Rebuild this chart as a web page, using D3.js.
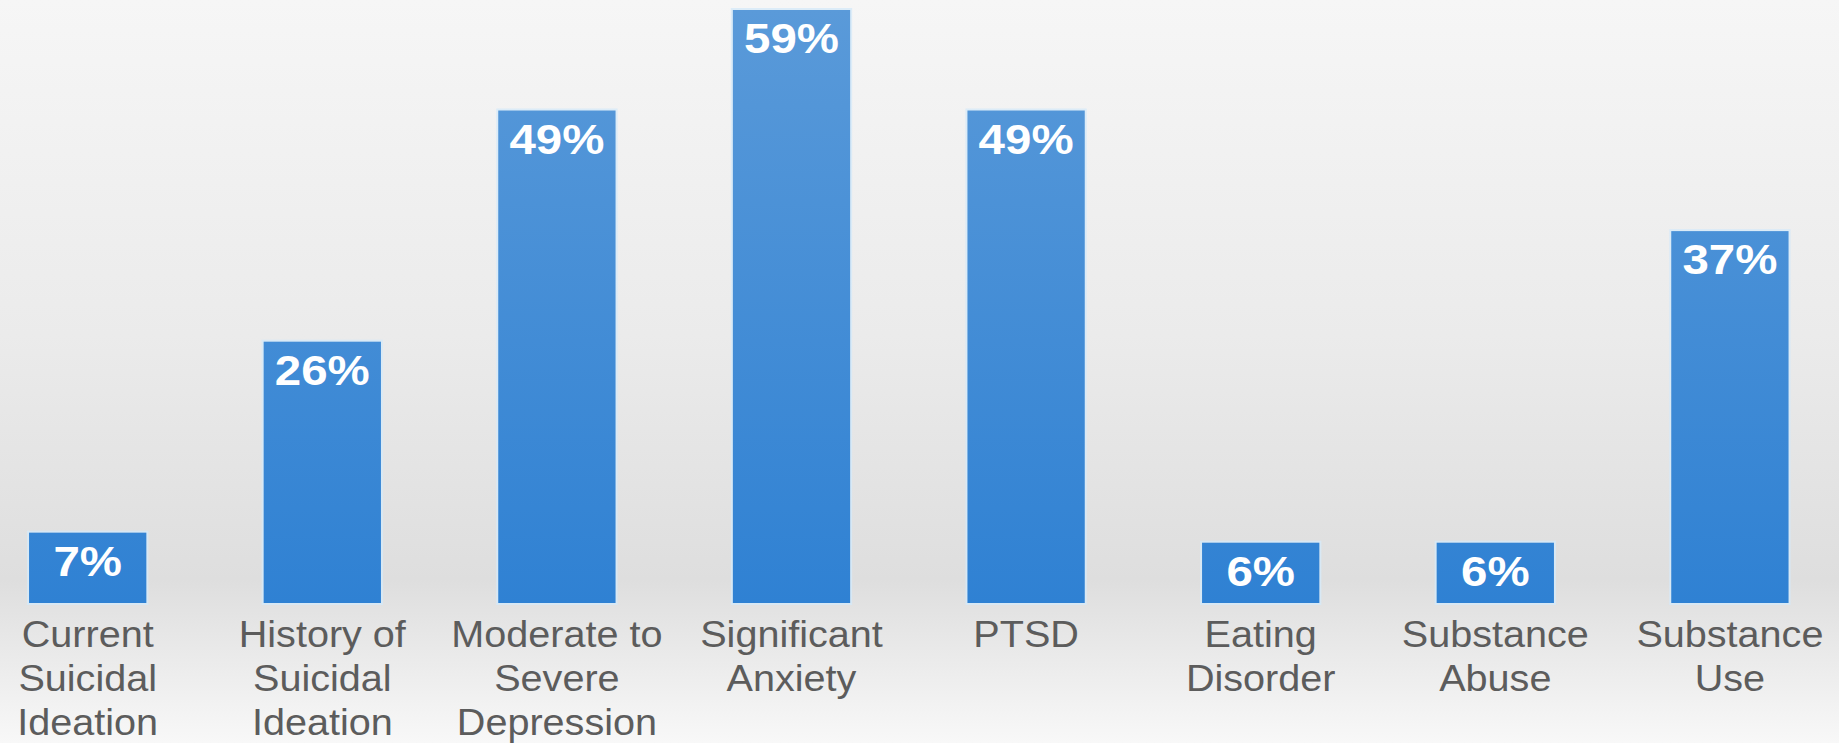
<!DOCTYPE html>
<html>
<head>
<meta charset="utf-8">
<script src="https://cdn.jsdelivr.net/npm/d3@7/dist/d3.min.js"></script>
<style>
  html, body { margin: 0; padding: 0; background: #f5f5f5; }
  svg { display: block; }
</style>
</head>
<body>
<svg id="chart" width="1839" height="743"></svg>
<script>
const categories = [
  ["Current", "Suicidal", "Ideation"],
  ["History of", "Suicidal", "Ideation"],
  ["Moderate to", "Severe", "Depression"],
  ["Significant", "Anxiety"],
  ["PTSD"],
  ["Eating", "Disorder"],
  ["Substance", "Abuse"],
  ["Substance", "Use"]
];
const values = [7, 26, 49, 59, 49, 6, 6, 37];
const valueLabels = ["7%", "26%", "49%", "59%", "49%", "6%", "6%", "37%"];

const W = 1839, H = 743;
const svg = d3.select("#chart");
const defs = svg.append("defs");

const bg = defs.append("linearGradient").attr("id", "bg")
  .attr("x1", 0).attr("y1", 0).attr("x2", 0).attr("y2", 1);
bg.append("stop").attr("offset", "0%").attr("stop-color", "#f6f6f6");
bg.append("stop").attr("offset", "45%").attr("stop-color", "#ebebeb");
bg.append("stop").attr("offset", "78%").attr("stop-color", "#dedede");
bg.append("stop").attr("offset", "100%").attr("stop-color", "#f8f8f8");

svg.append("rect").attr("width", W).attr("height", H).attr("fill", "url(#bg)");

const ids = categories.map((c, i) => "c" + i);
const x = d3.scaleBand().domain(ids).range([-29.6, 1847.2])
  .paddingInner(0.5).paddingOuter(0.25);
const y = d3.scaleLinear().domain([0, 59]).range([603, 10]);

const barGrad = defs.append("linearGradient").attr("id", "barGrad")
  .attr("gradientUnits", "userSpaceOnUse")
  .attr("x1", 0).attr("y1", y(59)).attr("x2", 0).attr("y2", y(0));
barGrad.append("stop").attr("offset", "0%").attr("stop-color", "#5a9ad9");
barGrad.append("stop").attr("offset", "100%").attr("stop-color", "#2f81d3");

const g = svg.append("g");
const bars = g.selectAll("g.bar").data(values).join("g").attr("class", "bar");

bars.append("rect")
  .attr("x", (d, i) => x(ids[i]) - 2)
  .attr("y", d => y(d) - 2)
  .attr("width", x.bandwidth() + 4)
  .attr("height", d => y(0) - y(d) + 4)
  .attr("fill", "#d6eaf9")
  .attr("opacity", 0.8);

bars.append("rect")
  .attr("x", (d, i) => x(ids[i]))
  .attr("y", d => y(d))
  .attr("width", x.bandwidth())
  .attr("height", d => y(0) - y(d))
  .attr("fill", "url(#barGrad)");

bars.append("text")
  .attr("transform", (d, i) => `translate(${x(ids[i]) + x.bandwidth() / 2},${y(d) + 43}) scale(1.13,1)`)
  .attr("text-anchor", "middle")
  .attr("fill", "#ffffff")
  .attr("font-family", "Liberation Sans, Arial, sans-serif")
  .attr("font-weight", "bold")
  .attr("font-size", 42)
  .text((d, i) => valueLabels[i]);

const labels = g.selectAll("text.cat").data(categories).join("text")
  .attr("class", "cat")
  .attr("transform", (d, i) => `translate(${x(ids[i]) + x.bandwidth() / 2},647) scale(1.07,1)`)
  .attr("text-anchor", "middle")
  .attr("fill", "#5c5c5c")
  .attr("font-family", "Liberation Sans, Arial, sans-serif")
  .attr("font-size", 37);

labels.each(function(lines, i) {
  const t = d3.select(this);
  lines.forEach((ln, j) => {
    t.append("tspan")
      .attr("x", 0)
      .attr("y", j * 44)
      .text(ln);
  });
});
</script>
</body>
</html>
